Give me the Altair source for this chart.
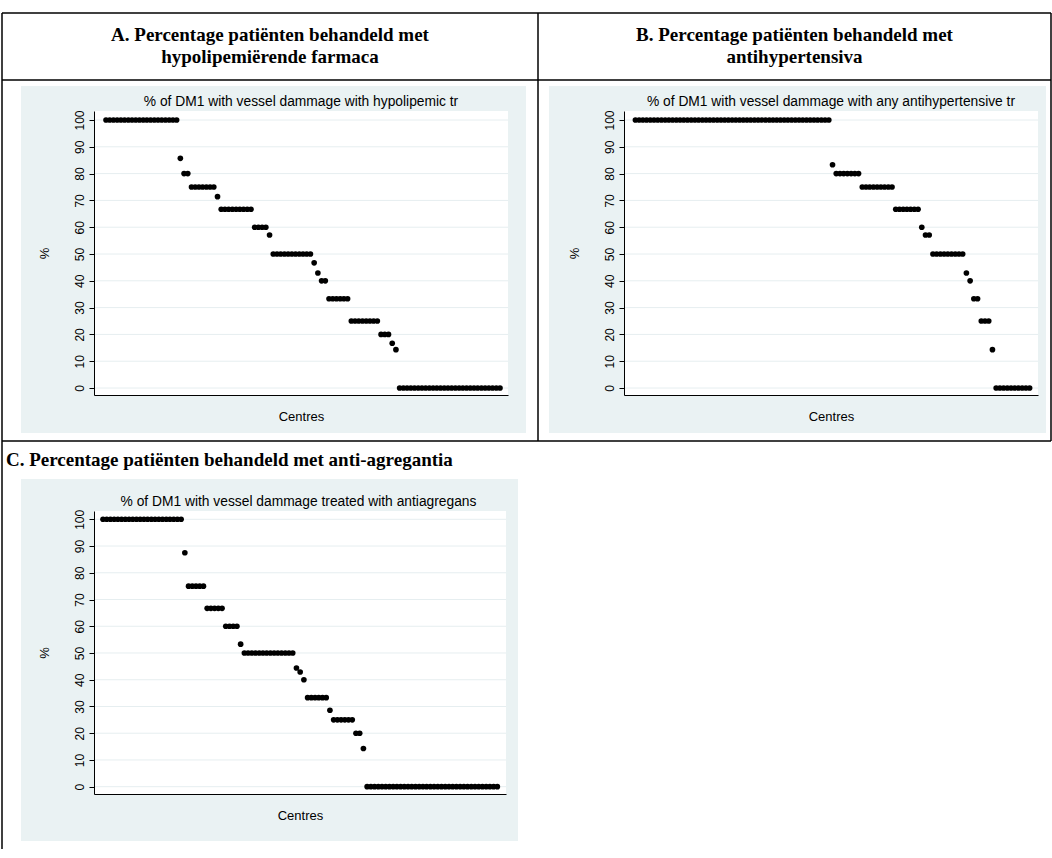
import altair as alt
import pandas as pd

# ---- data (value runs, left to right) ----
a_levels = [100, 85.7, 80, 75, 71.4, 66.7, 60, 57.1, 50, 46.7, 42.9, 40, 33.3, 25, 20, 16.7, 14.3, 0]
a_counts = [20, 1, 2, 7, 1, 9, 4, 1, 11, 1, 1, 2, 6, 8, 3, 1, 1, 28]

b_levels = [100, 83.3, 80, 75, 66.7, 60, 57.1, 50, 42.9, 40, 33.3, 25, 14.3, 0]
b_counts = [53, 1, 7, 9, 7, 1, 2, 9, 1, 1, 2, 3, 1, 10]

c_levels = [100, 87.5, 75, 66.7, 60, 53.3, 50, 44.4, 42.9, 40, 33.3, 28.6, 25, 20, 14.3, 0]
c_counts = [22, 1, 5, 5, 4, 1, 14, 1, 1, 1, 6, 1, 6, 2, 1, 36]

y_ticks = [0, 10, 20, 30, 40, 50, 60, 70, 80, 90, 100]

title_a = "% of DM1 with vessel dammage with hypolipemic tr"
title_b = "% of DM1 with vessel dammage with any antihypertensive tr"
title_c = "% of DM1 with vessel dammage treated with antiagregans"

head_a = ["A. Percentage patiënten behandeld met", "hypolipemiërende farmaca"]
head_b = ["B. Percentage patiënten behandeld met", "antihypertensiva"]
head_c = "C. Percentage patiënten behandeld met anti-agregantia"

BG = "#EAF2F3"
GRID = "#E6EEF0"
SANS = "Liberation Sans"
SERIF = "Liberation Serif"


def expand(levels, counts):
    vals = []
    for v, n in zip(levels, counts):
        vals += [v] * n
    return pd.DataFrame({"centre": list(range(1, len(vals) + 1)), "pct": vals})


one = pd.DataFrame({"k": [0]})


def rect(x0, x1, y0, y1, color):
    return alt.Chart(one).mark_rect(color=color).encode(
        x=alt.value(x0), x2=alt.value(x1), y=alt.value(y0), y2=alt.value(y1))


def line(x0, x1, y0, y1, width=1.5, color="black"):
    return alt.Chart(one).mark_rule(color=color, strokeWidth=width).encode(
        x=alt.value(x0), x2=alt.value(x1), y=alt.value(y0), y2=alt.value(y1))


def text(t, x, y, font, size, weight="normal", align="center"):
    return alt.Chart(one).mark_text(
        font=font, fontSize=size, fontWeight=weight, align=align,
        baseline="alphabetic", color="black").encode(
        x=alt.value(x), y=alt.value(y), text=alt.value(t))


def panel(df, title, w, h, xdom, ydom, bg_box, title_x, extra=None):
    yscale = alt.Scale(domain=ydom, nice=False, zero=False)
    yaxis = alt.Axis(values=y_ticks, labelAngle=270, labelFont=SANS, labelFontSize=12,
                     labelColor="black", labelPadding=3, tickSize=5, tickColor="black",
                     domainColor="black", grid=False, title="%", titleFont=SANS,
                     titleFontSize=13, titleFontWeight="normal", titleColor="black",
                     titlePadding=22, zindex=1)
    xaxis = alt.Axis(labels=False, ticks=False, grid=False, title="Centres", titleFont=SANS,
                     titleFontSize=13, titleFontWeight="normal", titleColor="black",
                     titlePadding=15, domainColor="black", zindex=1)
    x0, x1, y0, y1 = bg_box
    layers = []
    if extra:
        layers += extra
    layers += [
        rect(x0, x1, y0, y1, BG),
        rect(0, w, 0, h, "white"),
        alt.Chart(pd.DataFrame({"t": y_ticks})).mark_rule(color=GRID, strokeWidth=1).encode(
            y=alt.Y("t:Q", scale=yscale, axis=yaxis), x=alt.value(0), x2=alt.value(w)),
        alt.Chart(df).mark_circle(size=32, color="black", opacity=1).encode(
            x=alt.X("centre:Q", scale=alt.Scale(domain=xdom, nice=False, zero=False), axis=xaxis),
            y=alt.Y("pct:Q", scale=yscale, axis=yaxis)),
        text(title, title_x, -5, SANS, 13.8),
    ]
    return alt.layer(*layers).properties(width=w, height=h)


# table frame and headers, drawn relative to panel A's plot origin (93, 110)
frame = [
    line(-93, -92, -110, -110, width=1, color="white"),   # canvas anchor
    line(-92, 957, -98, -98),
    line(-92, 957, -31, -31),
    line(-92, 957, 330, 330),
    line(-92, -92, -98, 738),
    line(957, 957, -98, 330),
    line(444, 444, -98, 330),
    text(head_a[0], 176, -70, SERIF, 19, "bold"),
    text(head_a[1], 176, -48, SERIF, 19, "bold"),
    text(head_b[0], 700.5, -70, SERIF, 19, "bold"),
    text(head_b[1], 700.5, -48, SERIF, 19, "bold"),
    text(head_c, -88, 355, SERIF, 19, "bold", align="left"),
]

A = panel(expand(a_levels, a_counts), title_a, 414, 284, [-2.23, 109.15], [-2.61, 103.36],
          (-73, 432, -25, 322), 207, extra=frame)
B = panel(expand(b_levels, b_counts), title_b, 414, 284, [-2.07, 109.25], [-2.61, 103.36],
          (-75, 422, -25, 322), 207)
C = panel(expand(c_levels, c_counts), title_c, 412, 283, [-1.42, 109.33], [-2.73, 103.1],
          (-73, 424, -32, 330), 204.5)

chart = alt.concat(A, B, C, columns=2, spacing=116, bounds="flush").properties(
    padding=0, background="white").configure_view(stroke=None)

chart.save("out.html", embed_options={"renderer": "svg", "actions": False})
